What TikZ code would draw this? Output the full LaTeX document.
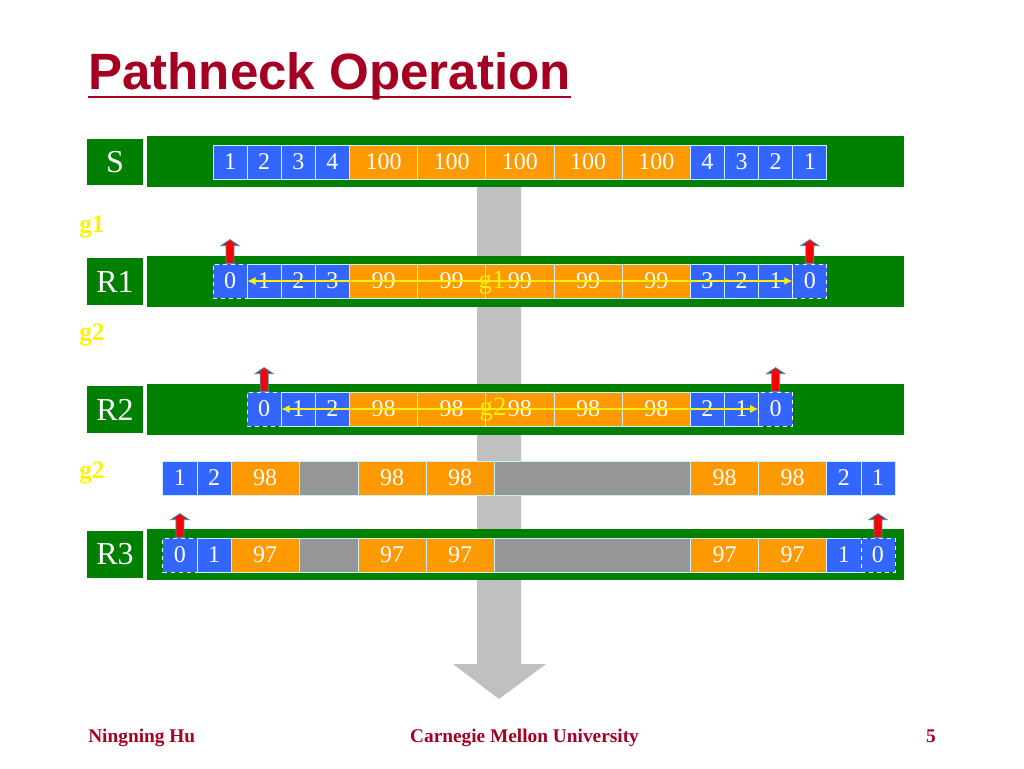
\documentclass[tikz,border=0pt]{standalone}
\usepackage{fontspec}
\setmainfont{Liberation Serif}
\newfontfamily\headfont{Liberation Sans}
\usetikzlibrary{arrows.meta}
\usetikzlibrary{calc}

\definecolor{pgreen}{RGB}{0,128,0}
\definecolor{pblue}{RGB}{51,102,255}
\definecolor{porange}{RGB}{255,153,0}
\definecolor{pgray}{RGB}{150,150,150}
\definecolor{trackgray}{RGB}{192,192,192}
\definecolor{titlered}{RGB}{165,0,33}

\begin{document}
\begin{tikzpicture}[x=0.75pt, y=-0.75pt,
  cell/.style={draw=white!80!cyan, line width=0.6pt, inner sep=0pt, minimum height=25.5pt, text=white, font=\fontsize{18}{18}\selectfont},
  zero/.style={draw=white, dashed},
  lbl/.style={fill=pgreen, text=white, inner sep=0pt, minimum width=42pt, minimum height=35pt, font=\fontsize{24}{24}\selectfont},
  gapl/.style={text=yellow, inner sep=0pt, anchor=base west, font=\bfseries\fontsize{19}{19}\selectfont},
  gapm/.style={text=yellow, inner sep=0pt, anchor=base, font=\fontsize{20}{20}\selectfont},
  probe/.style={draw=yellow, line width=0.8pt, {Latex[length=6pt,width=6pt]}-{Latex[length=6pt,width=6pt]}},
  redup/.style={fill=red, draw=cyan!60!teal, line width=0.6pt},
  foot/.style={text=titlered, inner sep=0pt, font=\bfseries\fontsize{14.5}{14.5}\selectfont}]

  \useasboundingbox (0,0) rectangle (1024,768);

  \def\d{34.1};
  \def\xo{213};

  %title
  \node[anchor=base west, inner sep=0pt, text=titlered, font=\headfont\bfseries\fontsize{38.3}{38.3}\selectfont] (title) at (88,89) {Pathneck Operation};
  \draw[titlered, line width=2.2pt] ($(title.base west)+(0,8)$) -- ($(title.base east)+(0,8)$);

  %gray arrow
  \fill[trackgray] (477,170) -- (521,170) -- (521,664) -- (546,664) -- (499,699) -- (453,664) -- (477,664) -- cycle;

  %green bars
  \foreach \y in {136,256,384,529}{
    \fill[pgreen] (147,\y) rectangle (904,\y+51);
  }

  \node[lbl] (lS) at (115,162) {S};
  \node[lbl] (lR1) at (115,281.5) {R1};
  \node[lbl] (lR2) at (115,409.5) {R2};
  \node[lbl] (lR3) at (115,554.5) {R3};

  %row S
  \def\dy{145};
  \foreach \a/\b/\num/\col [count=\k] in {0/1/1/pblue,1/2/2/pblue,2/3/3/pblue,3/4/4/pblue,4/6/100/porange,6/8/100/porange,8/10/100/porange,10/12/100/porange,12/14/100/porange,14/15/4/pblue,15/16/3/pblue,16/17/2/pblue,17/18/1/pblue}{
    \pgfmathsetmacro\w{(\b-\a)*\d*0.75}
    \node[cell, fill=\col, minimum width=\w pt] (s\k) at ({\xo+(\a+\b)/2*\d}, \dy+17) {\num};
  }

  %row R1
  \def\dy{264};
  \foreach \a/\b/\num/\col/\sty [count=\k] in {0/1/0/pblue/zero,1/2/1/pblue/solid,2/3/2/pblue/solid,3/4/3/pblue/solid,4/6/99/porange/solid,6/8/99/porange/solid,8/10/99/porange/solid,10/12/99/porange/solid,12/14/99/porange/solid,14/15/3/pblue/solid,15/16/2/pblue/solid,16/17/1/pblue/solid,17/18/0/pblue/zero}{
    \pgfmathsetmacro\w{(\b-\a)*\d*0.75}
    \node[cell, \sty, fill=\col, minimum width=\w pt] (a\k) at ({\xo+(\a+\b)/2*\d}, \dy+17) {\num};
  }

  %row R2
  \def\dy{392};
  \foreach \a/\b/\num/\col/\sty [count=\k] in {1/2/0/pblue/zero,2/3/1/pblue/solid,3/4/2/pblue/solid,4/6/98/porange/solid,6/8/98/porange/solid,8/10/98/porange/solid,10/12/98/porange/solid,12/14/98/porange/solid,14/15/2/pblue/solid,15/16/1/pblue/solid,16/17/0/pblue/zero}{
    \pgfmathsetmacro\w{(\b-\a)*\d*0.75}
    \node[cell, \sty, fill=\col, minimum width=\w pt] (b\k) at ({\xo+(\a+\b)/2*\d}, \dy+17) {\num};
  }

  %row after g2
  \def\dy{461};
  \foreach \a/\b/\num/\col [count=\k] in {-1.47/-0.47/1/pblue,-0.47/0.53/2/pblue,0.53/2.53/98/porange,2.53/4.25//pgray,4.25/6.25/98/porange,6.25/8.25/98/porange,8.25/14//pgray,14/16/98/porange,16/18/98/porange,18/19/2/pblue,19/20/1/pblue}{
    \pgfmathsetmacro\w{(\b-\a)*\d*0.75}
    \node[cell, fill=\col, minimum width=\w pt] (c\k) at ({\xo+(\a+\b)/2*\d}, \dy+17) {\num};
  }

  %row R3
  \def\dy{538};
  \foreach \a/\b/\num/\col/\sty [count=\k] in {-1.47/-0.47/0/pblue/zero,-0.47/0.53/1/pblue/solid,0.53/2.53/97/porange/solid,2.53/4.25//pgray/solid,4.25/6.25/97/porange/solid,6.25/8.25/97/porange/solid,8.25/14//pgray/solid,14/16/97/porange/solid,16/18/97/porange/solid,18/19/1/pblue/solid,19/20/0/pblue/zero}{
    \pgfmathsetmacro\w{(\b-\a)*\d*0.75}
    \node[cell, \sty, fill=\col, minimum width=\w pt] (d\k) at ({\xo+(\a+\b)/2*\d}, \dy+17) {\num};
  }

  %probes
  \draw[probe] (a1.east) -- (a13.west);
  \draw[probe] (b1.east) -- (b11.west);
  \node[gapm] (g1m) at (492,288) {g1};
  \node[gapm] (g2m) at (493,415) {g2};

  \node[gapl] (g1) at (79,232) {g1};
  \node[gapl] (g2a) at (79,340) {g2};
  \node[gapl] (g2b) at (79,478) {g2};

  %red arrows
  \foreach \n in {a1,a13,b1,b11,d1,d11}{
    \draw[redup] (\n.north) ++(-4,0) -- ++(0,-18) -- ++(-5,0) -- ++(9,-6) -- ++(9,6) -- ++(-5,0) -- ++(0,18) -- cycle;
  }

  %footer
  \node[foot, anchor=base west] (fa) at (88,742) {Ningning Hu};
  \node[foot, anchor=base] (fb) at (524.5,742) {Carnegie Mellon University};
  \node[foot, anchor=base east] (fc) at (936,742) {5};

\end{tikzpicture}
\end{document}
